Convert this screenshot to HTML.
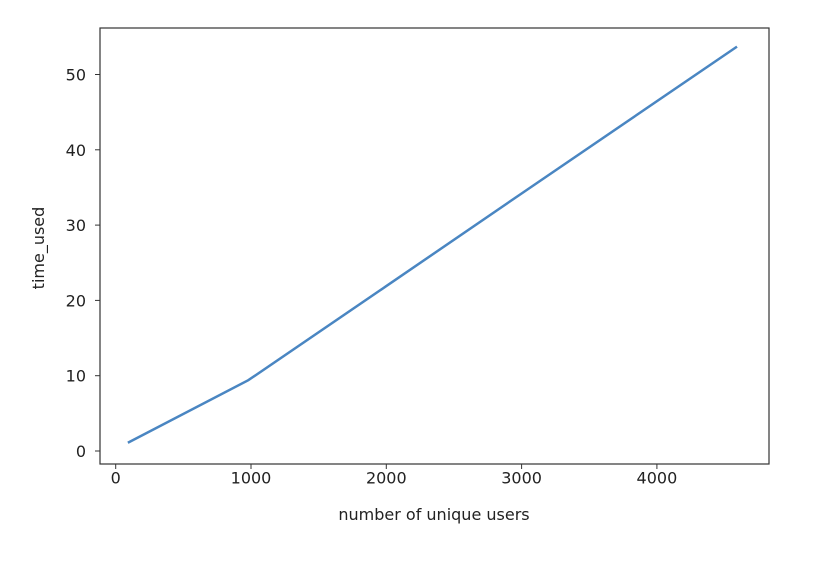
<!DOCTYPE html>
<html><head><meta charset="utf-8"><style>
body{margin:0;background:#fff;}
svg text{font-family:"DejaVu Sans","Liberation Sans",sans-serif;fill:#222;}
</style></head><body>
<svg id="chart" width="818" height="558">
<rect x="100" y="28" width="669" height="436" fill="none" stroke="#333" stroke-width="1.2"/>
<g id="g"></g>
<text x="434" y="520" font-size="16" text-anchor="middle">number of unique users</text>
<text transform="translate(44,248) rotate(-90)" font-size="16" text-anchor="middle">time_used</text>
</svg>
<script>
const xs=[90,980,2000,3000,4592];
const ys=[1.1,9.4,21.9,34.2,53.7];
const xTicks=[0,1000,2000,3000,4000];
const yTicks=[0,10,20,30,40,50];
const X=v=>115.7+v*0.1353;
const Y=v=>451-v*7.53;
const g=document.getElementById('g');
const NS='http://www.w3.org/2000/svg';
function mk(t,a){const e=document.createElementNS(NS,t);for(const k in a)e.setAttribute(k,a[k]);g.appendChild(e);return e;}
xTicks.forEach(t=>{
 const l=mk('line',{x1:X(t),x2:X(t),y1:464,y2:469,stroke:'#333'});
 
 
 const s=mk('text',{x:X(t),y:474+5,'font-size':16,'text-anchor':'middle','dominant-baseline':'middle'});s.textContent=t;
 
 
});
yTicks.forEach(t=>{
 const l=mk('line',{x1:95,x2:100,y1:Y(t),y2:Y(t),stroke:'#333'});
 
 
 const s=mk('text',{x:86,y:Y(t)+6,'font-size':16,'text-anchor':'end'});s.textContent=t;
 
 
});
const p=mk('polyline',{points:xs.map((x,i)=>X(x)+','+Y(ys[i])).join(' '),fill:'none',stroke:'#4a86c2','stroke-width':2.5});


</script>
</body></html>
